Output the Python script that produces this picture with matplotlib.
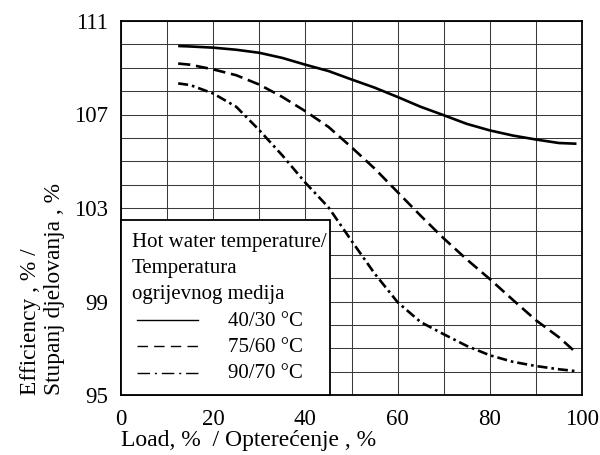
import matplotlib
matplotlib.use("Agg")
import matplotlib.pyplot as plt
from matplotlib.patches import Rectangle
from matplotlib.ticker import MultipleLocator, FixedLocator

plt.rcParams['font.family'] = ['Liberation Serif', 'DejaVu Serif']

# load, %
load = [12.4, 15, 20, 25, 30, 35, 40, 45, 50, 55, 60, 65, 70, 75, 80, 85, 90, 95, 98.8]
# efficiency, % for each hot water temperature
eff_40_30 = [109.93, 109.91, 109.86, 109.77, 109.64, 109.42, 109.13, 108.86, 108.5,
             108.15, 107.75, 107.33, 106.97, 106.6, 106.32, 106.1, 105.93, 105.78, 105.75]
eff_75_60 = [109.18, 109.13, 108.93, 108.68, 108.28, 107.75, 107.14, 106.47, 105.6,
             104.69, 103.68, 102.67, 101.7, 100.8, 99.96, 99.07, 98.2, 97.47, 96.8]
eff_90_70 = [108.33, 108.26, 107.9, 107.33, 106.33, 105.25, 104.08, 103.03, 101.6,
             100.2, 98.97, 98.12, 97.6, 97.1, 96.7, 96.42, 96.24, 96.1, 96.02]

legend_title = ["Hot water temperature/", "Temperatura", "ogrijevnog medija"]
legend_labels = ["40/30 °C", "75/60 °C", "90/70 °C"]

fig = plt.figure(figsize=(6, 4.55), dpi=100)
ax = fig.add_axes([121 / 600, 1 - 395 / 455, 461 / 600, 374 / 455])

ax.plot(load, eff_40_30, color='k', lw=1.9, solid_capstyle='butt')
ax.plot(load, eff_75_60, color='k', lw=1.9, dashes=(4.6, 2.2))
ax.plot(load, eff_90_70, color='k', lw=1.9, dashes=(3.8, 1.5, 1.0, 1.5))

ax.set_xlim(0, 100)
ax.set_ylim(95, 111)
ax.xaxis.set_major_locator(MultipleLocator(20))
ax.xaxis.set_minor_locator(MultipleLocator(10))
ax.yaxis.set_major_locator(FixedLocator([95, 99, 103, 107, 111]))
ax.yaxis.set_minor_locator(MultipleLocator(1))
ax.grid(which='both', color='#3a3a3a', lw=0.75)
ax.set_axisbelow(True)
ax.tick_params(which='both', length=0, labelsize=16.5)
ax.tick_params(axis='x', pad=10)
ax.tick_params(axis='y', pad=9)
for s in ax.spines.values():
    s.set_linewidth(1.3)

ax.set_xlabel("Load, %  / Opterećenje , %", fontsize=17, loc='left', labelpad=0)
ax.set_ylabel("Efficiency , % /\nStupanj djelovanja , %", fontsize=16.8, loc='bottom',
              labelpad=7, multialignment='left', linespacing=1.2)

# legend box
ax.add_patch(Rectangle((0, 0), 0.4534, 0.468, transform=ax.transAxes, fc='white',
                       ec='k', lw=1.3, zorder=3, clip_on=False))
tx = 0.023
for i, t in enumerate(legend_title):
    ax.text(tx, 0.3965 - i * 0.0703, t, transform=ax.transAxes, fontsize=15,
            va='baseline', ha='left', zorder=4)
styles = [dict(), dict(dashes=(7.5, 4.5)), dict(dashes=(9, 3.5, 1.5, 3.5))]
for i, (lab, st) in enumerate(zip(legend_labels, styles)):
    yb = 0.1856 - i * 0.0703
    ax.text(0.232, yb, lab, transform=ax.transAxes, fontsize=15,
            va='baseline', ha='left', zorder=4)
    ax.plot([0.034, 0.167], [yb + 0.0145, yb + 0.0145], transform=ax.transAxes,
            color='k', lw=1.0, zorder=4, **st)

fig.savefig("out.png", dpi=100)
